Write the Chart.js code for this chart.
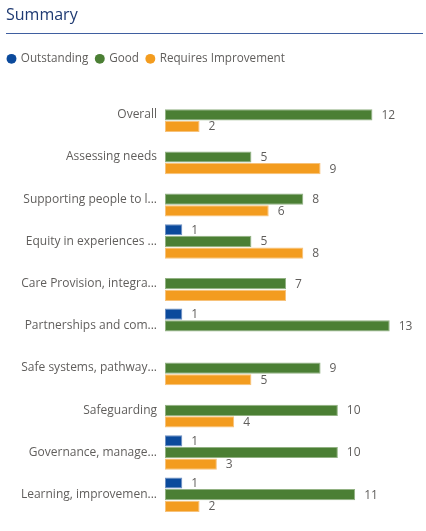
<!DOCTYPE html>
<html>
<head>
<meta charset="utf-8">
<script src="https://cdn.jsdelivr.net/npm/chart.js@4.4.1/dist/chart.umd.min.js"></script>
<style>
  html, body { margin: 0; padding: 0; background: #ffffff; width: 426px; height: 531px; overflow: hidden; }
  #wrap { position: relative; width: 426px; height: 531px; }
  #title { position: absolute; left: 6px; top: 2px; font-family: "Open Sans", sans-serif; font-size: 16px; color: #1F3A72; line-height: 24px; }
  #rule { position: absolute; left: 6px; top: 33px; width: 417px; height: 1px; background: #3F5FA0; }
  canvas { position: absolute; left: 0; top: 0; }
</style>
</head>
<body>
<div id="wrap">
  <canvas id="c" width="426" height="531"></canvas>
  <div id="title">Summary</div>
  <div id="rule"></div>
</div>
<script>
const categories = [
  "Overall",
  "Assessing needs",
  "Supporting people to l...",
  "Equity in experiences ...",
  "Care Provision, integra...",
  "Partnerships and com...",
  "Safe systems, pathway...",
  "Safeguarding",
  "Governance, manage...",
  "Learning, improvemen..."
];
const seriesNames = ["Outstanding", "Good", "Requires Improvement"];
const outstanding = [null, null, null, 1, null, 1, null, null, 1, 1];
const good = [12, 5, 8, 5, 7, 13, 9, 10, 10, 11];
const requiresImprovement = [2, 9, 6, 8, 7, null, 5, 4, 3, 2];
const colors = ["#0B4A9C", "#4B7F34", "#F39C1F"];
const borderColors = ["#6F90C2", "#92B283", "#F7C27A"];

const FONT = '"Open Sans", sans-serif';

const dataLabels = {
  id: 'dataLabels',
  afterDatasetsDraw(chart) {
    const ctx = chart.ctx;
    ctx.save();
    ctx.font = '12px ' + FONT;
    ctx.fillStyle = '#605E5C';
    ctx.textAlign = 'left';
    ctx.textBaseline = 'middle';
    const placed = [];
    chart.data.datasets.forEach((ds, di) => {
      const meta = chart.getDatasetMeta(di);
      meta.data.forEach((el, i) => {
        const v = ds.data[i];
        if (v === null || v === undefined) return;
        const txt = String(v);
        const w = ctx.measureText(txt).width;
        const x = el.x + 9;
        const y = el.y;
        const box = { l: x, r: x + w, t: y - 6, b: y + 6 };
        const hit = placed.some(p => box.l < p.r && box.r > p.l && box.t < p.b && box.b > p.t);
        if (hit) return;
        placed.push(box);
        ctx.fillText(txt, x, y + 0.5);
      });
    });
    ctx.restore();
  }
};

new Chart(document.getElementById('c'), {
  type: 'bar',
  data: {
    labels: categories,
    datasets: [
      { label: seriesNames[0], data: outstanding, backgroundColor: colors[0], borderColor: borderColors[0] },
      { label: seriesNames[1], data: good, backgroundColor: colors[1], borderColor: borderColors[1] },
      { label: seriesNames[2], data: requiresImprovement, backgroundColor: colors[2], borderColor: borderColors[2] }
    ]
  },
  options: {
    indexAxis: 'y',
    responsive: false,
    animation: false,
    devicePixelRatio: 1,
    datasets: {
      bar: { categoryPercentage: 0.83, barPercentage: 0.96, borderWidth: 1, borderSkipped: false }
    },
    layout: { padding: { left: 0, right: 19, top: 45, bottom: 8 } },
    plugins: {
      legend: {
        position: 'top',
        align: 'start',
        labels: {
          usePointStyle: true,
          pointStyle: 'circle',
          boxWidth: 7,
          boxHeight: 7,
          padding: 8,
          color: '#605E5C',
          font: { family: FONT, size: 11.7 },
          generateLabels(chart) {
            return chart.data.datasets.map((ds, i) => ({
              text: ds.label,
              fillStyle: ds.backgroundColor,
              strokeStyle: ds.backgroundColor,
              lineWidth: 0,
              pointStyle: 'circle',
              fontColor: '#605E5C',
              hidden: false,
              datasetIndex: i
            }));
          }
        }
      },
      tooltip: { enabled: false }
    },
    scales: {
      x: {
        position: 'top',
        min: 0,
        max: 14,
        display: true,
        ticks: { display: false },
        grid: { display: false, drawTicks: false },
        border: { display: false },
        afterFit(s) { s.height = 19; }
      },
      y: {
        ticks: { color: '#605E5C', font: { family: FONT, size: 12 }, padding: 8, autoSkip: false },
        grid: { display: false, drawTicks: false },
        border: { display: false },
        afterFit(s) { s.width = 165; }
      }
    }
  },
  plugins: [dataLabels]
});
</script>
</body>
</html>
